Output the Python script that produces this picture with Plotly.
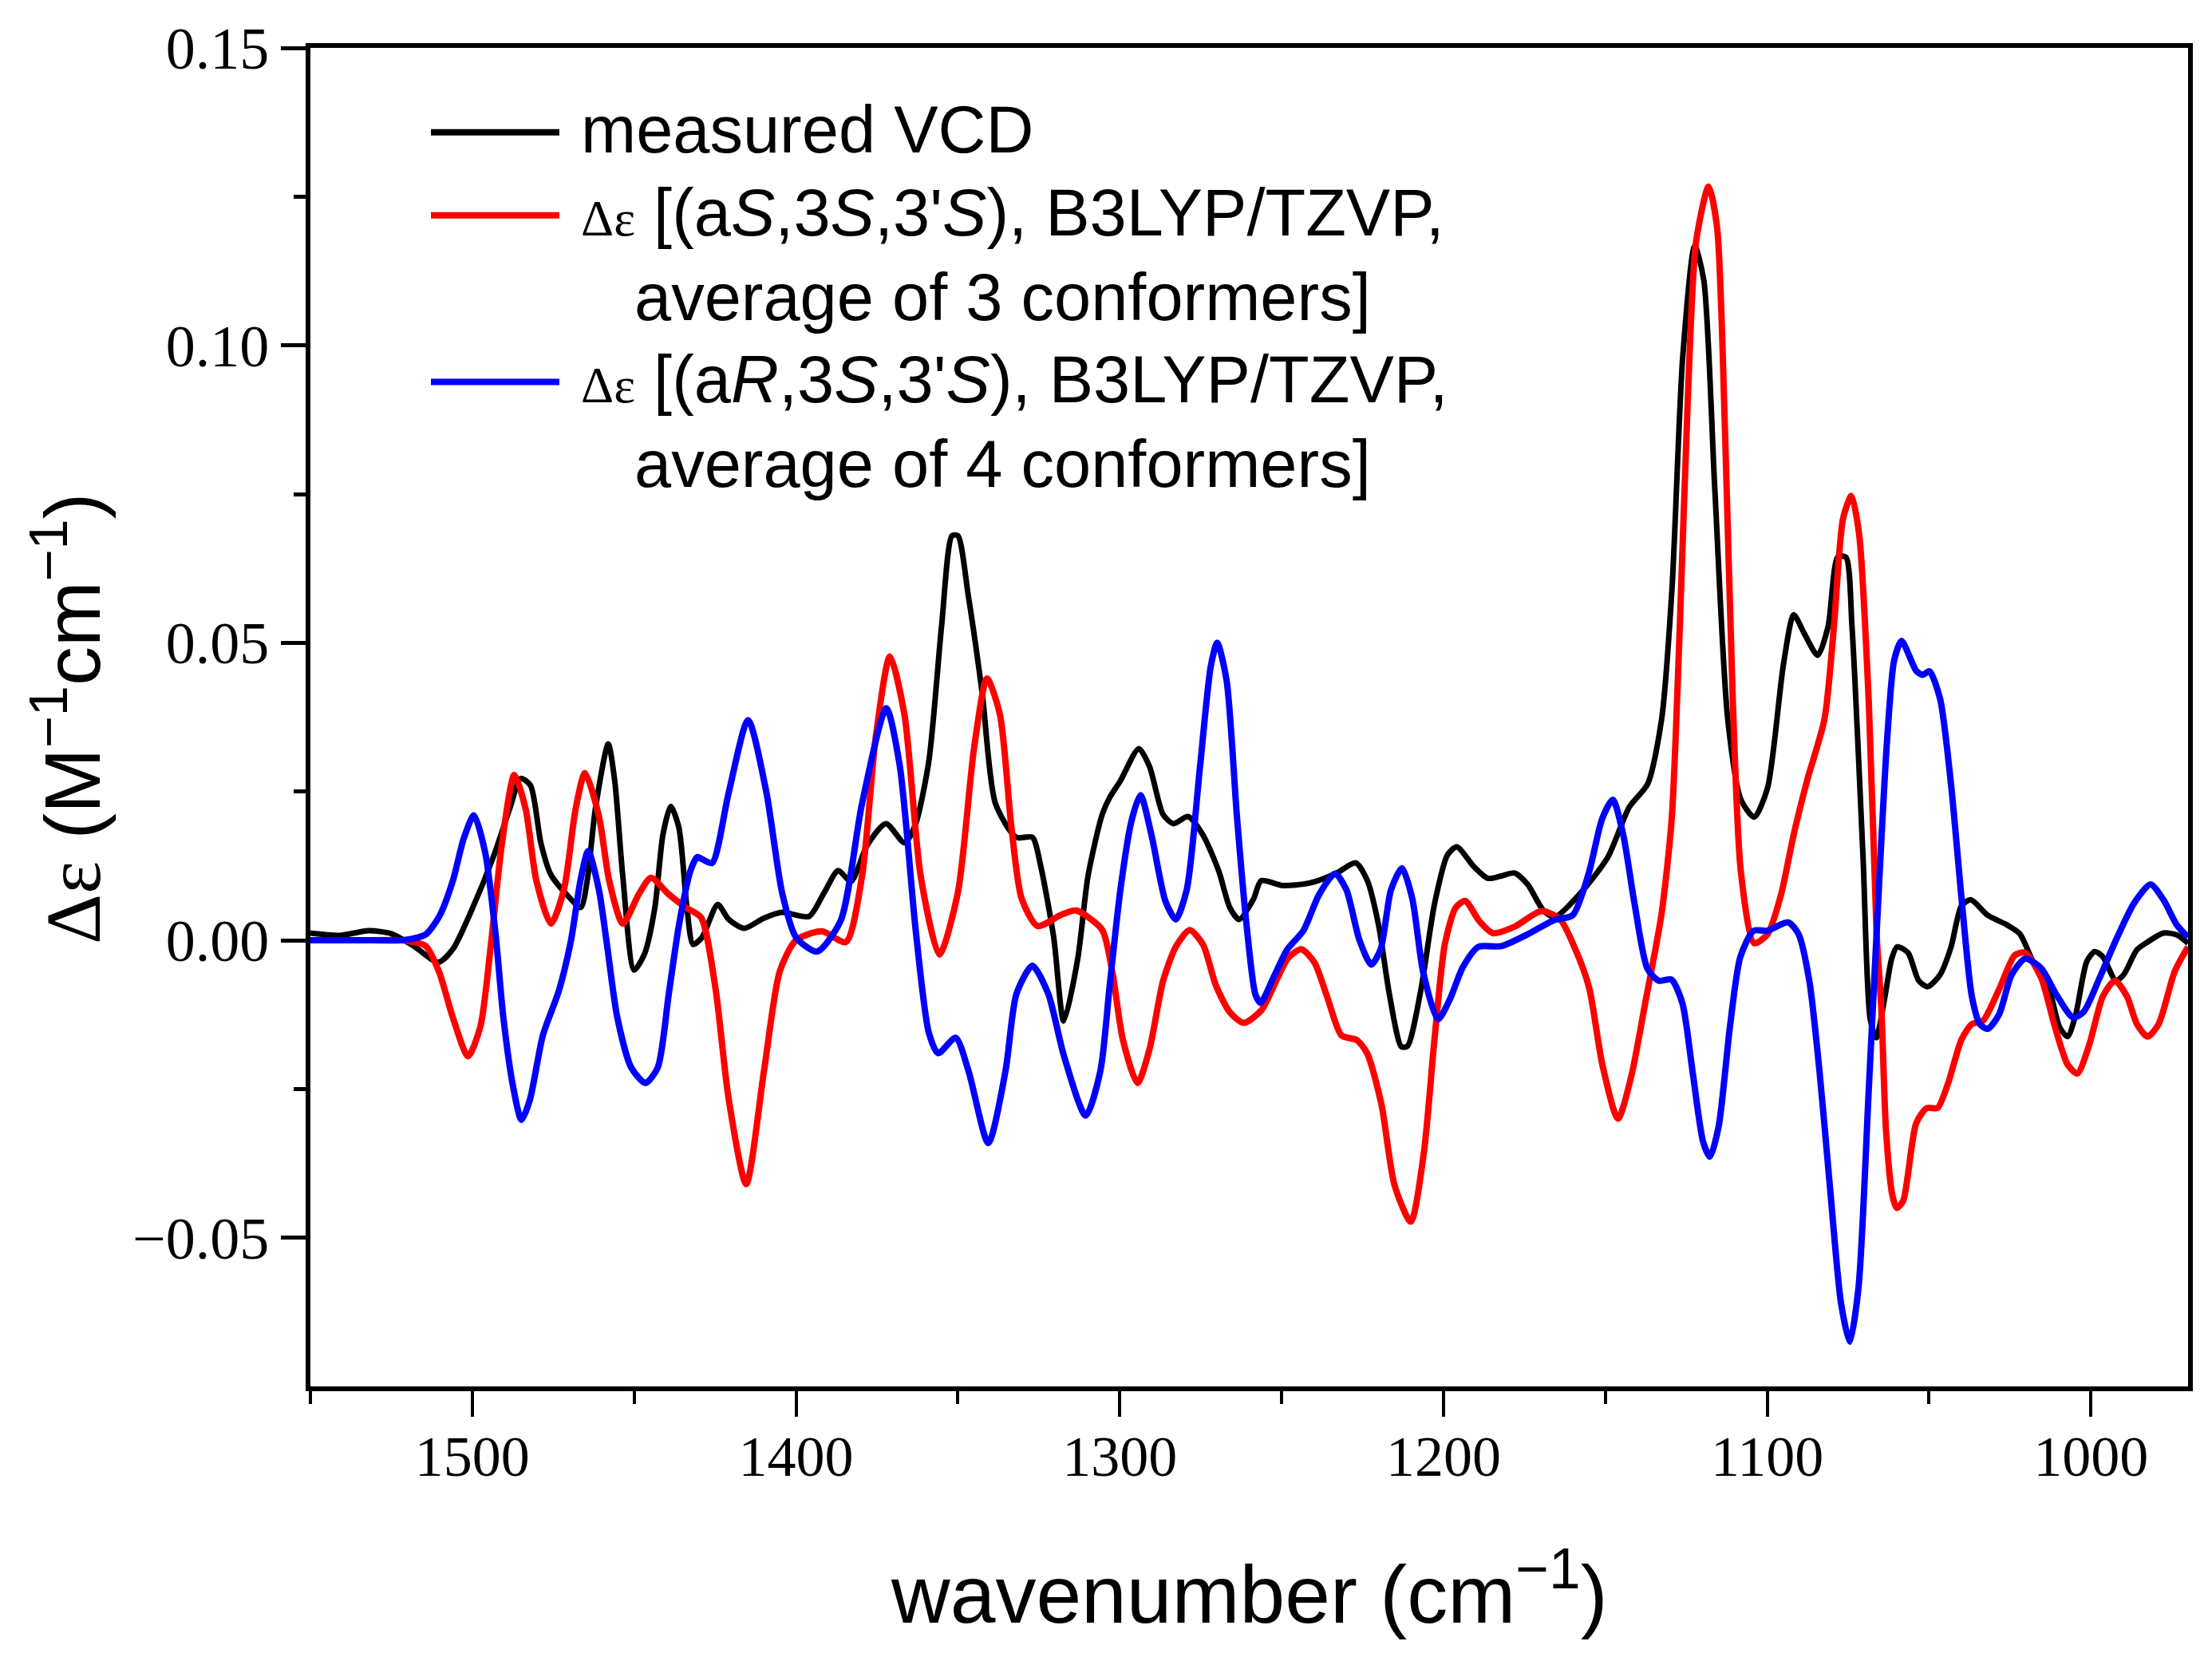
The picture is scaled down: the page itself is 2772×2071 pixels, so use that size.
import plotly.graph_objects as go

# measured VCD (black)
wn_meas = [1550, 1541, 1532, 1525, 1518, 1510.5, 1506, 1500, 1493.5, 1488.5, 1485, 1482, 1478.8, 1475.7,
           1470.7, 1466.5, 1464.5, 1462, 1458, 1456, 1453.5, 1450, 1446.8, 1443.6, 1441.1, 1438.7, 1436.2,
           1433.7, 1431.8, 1429, 1424.2, 1420.8, 1416, 1410, 1404.4, 1396, 1391.3, 1387, 1383, 1378, 1372.2,
           1366.5, 1363.2, 1359, 1355, 1351.8, 1350, 1346.8, 1342.5, 1338.4, 1332, 1327, 1324.5, 1320.4,
           1317.3, 1313, 1309.8, 1305.5, 1303.1, 1299.8, 1294.1, 1290.8, 1286.6, 1283.4, 1278.9, 1274.3,
           1269.4, 1266, 1263.1, 1258.7, 1256.3, 1249.7, 1241.4, 1233.3, 1227.1, 1223.5, 1220, 1216.7, 1213,
           1211.1, 1207, 1202.8, 1198.8, 1195.9, 1190.5, 1186.3, 1182.2, 1178, 1174, 1169, 1165.6, 1157.4,
           1149.2, 1142.6, 1136.9, 1132.6, 1129.4, 1126.1, 1122.4, 1119.6, 1116.2, 1112.2, 1108.1, 1104,
           1099.9, 1095, 1091.8, 1088.5, 1084.4, 1081.2, 1078.2, 1075.7, 1073.8, 1070.4, 1068.2, 1066.3,
           1063.8, 1061.5, 1059.8, 1056.5, 1053.2, 1050.4, 1046.6, 1043.2, 1040, 1037.1, 1031.9, 1026, 1022,
           1017.9, 1012.9, 1009.7, 1007.2, 1004.7, 1001.3, 998.8, 996.3, 992.3, 989.9, 985.8, 982.5, 977.6,
           973.5, 970]
de_meas = [0.0012, 0.0008, 0.0016, 0.0011, -0.0010, -0.0037, -0.0015, 0.0053, 0.0140, 0.0220, 0.0272, 0.0260,
           0.0163, 0.0110, 0.0076, 0.0055, 0.0100, 0.0220, 0.0330, 0.0268, 0.0107, -0.0050, -0.0023, 0.0055,
           0.0178, 0.0225, 0.0190, 0.0055, -0.0007, 0.0005, 0.0060, 0.0035, 0.0020, 0.0037, 0.0047, 0.0040,
           0.0080, 0.0117, 0.0099, 0.0160, 0.0196, 0.0164, 0.0193, 0.0300, 0.0530, 0.0680, 0.0680, 0.0580,
           0.0416, 0.0230, 0.0173, 0.0173, 0.0127, 0.0005, -0.0136, -0.0032, 0.0108, 0.0210, 0.0240, 0.0268,
           0.0322, 0.0292, 0.0211, 0.0196, 0.0208, 0.0177, 0.0116, 0.0055, 0.0035, 0.0069, 0.0100, 0.0092,
           0.0096, 0.0112, 0.0130, 0.0100, 0.0024, -0.0091, -0.0179, -0.0178, -0.0084, 0.0060, 0.0143, 0.0157,
           0.0123, 0.0104, 0.0108, 0.0113, 0.0094, 0.0049, 0.0039, 0.0081, 0.0140, 0.0224, 0.0263, 0.0372,
           0.0592, 0.0980, 0.1167, 0.1110, 0.0760, 0.0372, 0.0236, 0.0207, 0.0256, 0.0463, 0.0547, 0.0515,
           0.0479, 0.0527, 0.0644, 0.0644, 0.0527, 0.0140, -0.0132, -0.0164, -0.0100, -0.0030, -0.0011,
           -0.0021, -0.0068, -0.0078, -0.0058, -0.0011, 0.0058, 0.0068, 0.0042, 0.0026, 0.0011, -0.0036,
           -0.0083, -0.0146, -0.0162, -0.0125, -0.0036, -0.0019, -0.0028, -0.0068, -0.0058, -0.0016, -0.0003,
           0.0012, 0.0009, -0.0005]

# (aS,3S,3'S) calculated (red)
wn_as = [1550, 1535, 1522, 1518, 1514.3, 1510.2, 1506, 1501.3, 1497.5, 1494.3, 1490.9, 1487, 1483.5, 1480.2,
         1475.7, 1471.7, 1468.1, 1465.2, 1460.9, 1457.7, 1453.5, 1448.5, 1444.8, 1439.5, 1434, 1429.3, 1424.9,
         1420.8, 1415.4, 1409.9, 1405, 1400, 1392, 1384.6, 1379.6, 1375.4, 1371, 1366.5, 1361.5, 1355.7, 1350,
         1345, 1341, 1337, 1333.5, 1330.3, 1325.4, 1318, 1313.5, 1305.5, 1302.3, 1299, 1294.5, 1290.8, 1286.6,
         1282.6, 1278.4, 1274.3, 1270.3, 1266, 1261.7, 1256.3, 1251.3, 1248, 1243.9, 1239.8, 1235.7, 1231.5,
         1226.7, 1223.5, 1219.2, 1215.1, 1210.1, 1206.1, 1202.8, 1199.6, 1196.2, 1193.3, 1188.9, 1184.7, 1178,
         1169.8, 1164.1, 1159.2, 1155, 1150.9, 1146.1, 1142, 1137.7, 1132.7, 1129.5, 1127, 1124.5, 1122,
         1118.1, 1115.5, 1113, 1110.6, 1108.1, 1104, 1099.9, 1095.8, 1091.8, 1087.7, 1082.3, 1079.4, 1076.6,
         1074, 1071.6, 1068.6, 1066.2, 1064.7, 1063.3, 1061.3, 1060, 1058, 1054, 1050.7, 1047.4, 1044.1, 1040,
         1036.8, 1033.3, 1028.4, 1023.5, 1020.3, 1015.4, 1011.1, 1007.2, 1004.2, 1000.6, 996.3, 992.6, 988.9,
         985.8, 982.5, 979.1, 974.1, 970]
de_as = [0.0, 0.0, 0.0, -0.0003, -0.0010, -0.0054, -0.0130, -0.0195, -0.0145, -0.0010, 0.0160, 0.0278, 0.0220,
         0.0100, 0.0028, 0.0085, 0.0220, 0.0281, 0.0209, 0.0100, 0.0028, 0.0078, 0.0105, 0.0078, 0.0055, 0.0038,
         -0.0080, -0.0267, -0.0410, -0.0220, -0.0052, 0.0, 0.0015, -0.0003, 0.0108, 0.0340, 0.0477, 0.0379,
         0.0108, -0.0024, 0.0080, 0.0323, 0.0440, 0.0379, 0.0192, 0.0070, 0.0024, 0.0043, 0.0050, 0.0018,
         -0.0053, -0.0168, -0.0240, -0.0183, -0.0068, -0.0010, 0.0017, -0.0007, -0.0076, -0.0121, -0.0139,
         -0.0118, -0.0064, -0.0030, -0.0015, -0.0038, -0.0099, -0.0160, -0.0168, -0.0191, -0.0275, -0.0412,
         -0.0473, -0.0359, -0.0168, -0.0007, 0.0055, 0.0066, 0.0032, 0.0012, 0.0023, 0.0049, 0.0036, -0.0016,
         -0.0080, -0.0210, -0.0300, -0.0229, -0.0106, 0.0042, 0.0204, 0.0527, 0.0914, 0.1173, 0.1267, 0.1199,
         0.0850, 0.0397, 0.0113, -0.0005, 0.0010, 0.0075, 0.0178, 0.0268, 0.0372, 0.0527, 0.0708, 0.0747,
         0.0682, 0.0397, 0.0011, -0.0120, -0.0320, -0.0430, -0.0450, -0.0438, -0.0308, -0.0282, -0.0282,
         -0.0240, -0.0167, -0.0141, -0.0135, -0.0083, -0.0025, -0.0021, -0.0063, -0.0146, -0.0209, -0.0224,
         -0.0177, -0.0094, -0.0068, -0.0094, -0.0141, -0.0162, -0.0141, -0.0052, -0.0011]

# (aR,3S,3'S) calculated (blue)
wn_ar = [1550, 1535, 1522, 1518, 1514.3, 1510.2, 1506, 1502.7, 1499.5, 1496, 1492.8, 1490.4, 1487.4, 1484.8,
         1482.2, 1478.2, 1473.2, 1469.5, 1466.6, 1464.2, 1460.9, 1458.4, 1455.2, 1450.9, 1446.5, 1442.7,
         1439.3, 1436.2, 1432.6, 1430.5, 1428.9, 1425.9, 1420.8, 1414.8, 1409.2, 1404.3, 1400, 1393.5, 1386.2,
         1379.6, 1372.1, 1368, 1363, 1359, 1356.1, 1350.7, 1346.7, 1340.6, 1335.3, 1331.9, 1327, 1322.1,
         1317.2, 1310.5, 1306, 1303.1, 1299.8, 1296.4, 1293.6, 1290.2, 1285.9, 1282.7, 1279.3, 1275.2, 1271.9,
         1269.9, 1267, 1263.8, 1260.8, 1258.1, 1256.5, 1252.3, 1248.2, 1243.3, 1238.4, 1233.5, 1230, 1226,
         1222.3, 1219.4, 1216.2, 1212.8, 1209.6, 1206.3, 1201.7, 1198, 1194, 1189.2, 1182.2, 1174, 1165.8,
         1160.1, 1155.1, 1151, 1147.7, 1144.5, 1141, 1137, 1133.5, 1129.6, 1126.2, 1123, 1119.8, 1117.7, 1115,
         1111.5, 1108.3, 1104.2, 1100, 1093.5, 1090.3, 1087, 1083.8, 1080.6, 1077.2, 1074.5, 1071.8, 1068.6,
         1065.2, 1063, 1060.8, 1058.5, 1054, 1052, 1049.9, 1046.6, 1043.2, 1040, 1036.8, 1034.3, 1031.9,
         1028.4, 1024.5, 1020.3, 1015.4, 1010.4, 1005.5, 1002.2, 997.3, 992.3, 986.6, 981.6, 977.6, 973.5, 970]
de_ar = [0.0, 0.0, 0.0, 0.0003, 0.0010, 0.0040, 0.0100, 0.0170, 0.0210, 0.0147, 0.0010, -0.0130, -0.0246,
         -0.0302, -0.0268, -0.0160, -0.0084, 0.0, 0.0100, 0.0150, 0.0085, -0.0007, -0.0130, -0.0214, -0.0240,
         -0.0214, -0.0090, 0.0024, 0.0117, 0.0140, 0.0136, 0.0130, 0.0248, 0.0370, 0.0250, 0.0080, 0.0005,
         -0.0019, 0.0033, 0.0230, 0.0390, 0.0295, 0.0015, -0.0155, -0.0190, -0.0164, -0.0220, -0.0341, -0.0220,
         -0.0090, -0.0043, -0.0090, -0.0195, -0.0295, -0.0220, -0.0076, 0.0085, 0.0200, 0.0244, 0.0177, 0.0066,
         0.0035, 0.0085, 0.0292, 0.0460, 0.0500, 0.0437, 0.0208, 0.0024, -0.0091, -0.0105, -0.0060, -0.0015,
         0.0016, 0.0077, 0.0112, 0.0085, 0.0001, -0.0041, -0.0015, 0.0085, 0.0121, 0.0069, -0.0053, -0.0133,
         -0.0099, -0.0045, -0.0011, -0.0010, 0.0010, 0.0034, 0.0042, 0.0113, 0.0204, 0.0236, 0.0178, 0.0062,
         -0.0048, -0.0068, -0.0066, -0.0106, -0.0223, -0.0339, -0.0364, -0.0313, -0.0145, -0.0028, 0.0016,
         0.0016, 0.0030, 0.0010, -0.0068, -0.0223, -0.0416, -0.0610, -0.0675, -0.0584, -0.0248, 0.0120, 0.0334,
         0.0470, 0.0503, 0.0453, 0.0446, 0.0452, 0.0406, 0.0261, 0.0072, -0.0094, -0.0141, -0.0149, -0.0125,
         -0.0058, -0.0031, -0.0047, -0.0094, -0.0130, -0.0120, -0.0063, 0.0, 0.0063, 0.0094, 0.0068, 0.0026,
         0.0005]

SANS = "Liberation Sans, Arial, sans-serif"
SERIF = "Liberation Serif, Times New Roman, serif"
DE = '<span style="font-family:Liberation Serif">Δε</span>'
DE_SMALL = '<span style="font-family:Liberation Serif;font-size:64px">Δε</span>'

fig = go.Figure()
fig.add_trace(go.Scatter(x=wn_meas, y=de_meas, mode="lines", line=dict(color="black", width=7, shape="spline", smoothing=0.7)))
fig.add_trace(go.Scatter(x=wn_as, y=de_as, mode="lines", line=dict(color="#ff0000", width=8, shape="spline", smoothing=0.7)))
fig.add_trace(go.Scatter(x=wn_ar, y=de_ar, mode="lines", line=dict(color="#0000ff", width=8, shape="spline", smoothing=0.7)))

W, H = 2772, 2071
OFF = 8  # page body margin shifts the figure
X0, X1, Y0, Y1 = 389, 2742, 58, 1737  # plot box in the screenshot
pw, ph = X1 - X0, Y1 - Y0

def px(x):
    return (x - X0) / pw

def py(y):
    return (Y1 - y) / ph

# hand-drawn legend (long line samples, indented second lines)
legend_rows = [
    (164, "black", "measured VCD", None),
    (268, "#ff0000", DE_SMALL + " [(a<i>S</i>,3<i>S</i>,3'<i>S</i>), B3LYP/TZVP,", "average of 3 conformers]"),
    (477, "#0000ff", DE_SMALL + " [(a<i>R</i>,3<i>S</i>,3'<i>S</i>), B3LYP/TZVP,", "average of 4 conformers]"),
]
shapes = []
annotations = []
for yline, col, txt, txt2 in legend_rows:
    shapes.append(dict(type="line", xref="paper", yref="paper", x0=px(540), x1=px(701), y0=py(yline), y1=py(yline),
                       line=dict(color=col, width=8)))
    annotations.append(dict(xref="paper", yref="paper", x=px(726), y=py(yline - 3), text=txt, showarrow=False,
                            xanchor="left", yanchor="middle", font=dict(family=SANS, size=83, color="black")))
    if txt2:
        annotations.append(dict(xref="paper", yref="paper", x=px(793), y=py(yline + 103), text=txt2, showarrow=False,
                                xanchor="left", yanchor="middle", font=dict(family=SANS, size=83, color="black")))

annotations.append(dict(xref="paper", yref="paper", x=px(1565), y=py(1990), showarrow=False,
                        text="wavenumber (cm<sup>−1</sup>)", xanchor="center", yanchor="middle",
                        font=dict(family=SANS, size=102, color="black")))
annotations.append(dict(xref="paper", yref="paper", x=px(84), y=py(900), showarrow=False, textangle=-90,
                        text=DE + " (M<sup>−1</sup>cm<sup>−1</sup>)", xanchor="center", yanchor="middle",
                        font=dict(family=SANS, size=98, color="black")))

fig.update_layout(
    width=W, height=H,
    margin=dict(l=X0 - OFF, r=W + OFF - X1, t=Y0 - OFF, b=H + OFF - Y1),
    paper_bgcolor="white", plot_bgcolor="white",
    showlegend=False,
    shapes=shapes, annotations=annotations,
    font=dict(family=SERIF, color="black"),
)
fig.update_xaxes(
    range=[1550, 970], tickvals=[1500, 1400, 1300, 1200, 1100, 1000],
    ticks="outside", ticklen=32, tickwidth=4, tickcolor="black", ticklabelstandoff=-12,
    minor=dict(tickvals=[1550, 1450, 1350, 1250, 1150, 1050], ticks="outside", ticklen=16, tickwidth=4, tickcolor="black"),
    showline=True, linewidth=6, linecolor="black", mirror=True,
    showgrid=False, zeroline=False,
    tickfont=dict(family=SERIF, size=72, color="black"),
)
fig.update_yaxes(
    range=[-0.075, 0.15], tickvals=[-0.05, 0.0, 0.05, 0.10, 0.15], tickformat=".2f",
    ticks="outside", ticklen=31, tickwidth=5, tickcolor="black",
    minor=dict(tickvals=[-0.025, 0.025, 0.075, 0.125], ticks="outside", ticklen=15, tickwidth=5, tickcolor="black"),
    showline=True, linewidth=6, linecolor="black", mirror=True,
    showgrid=False, zeroline=False,
    tickfont=dict(family=SERIF, size=74, color="black"),
)

fig.write_html("out.html")
